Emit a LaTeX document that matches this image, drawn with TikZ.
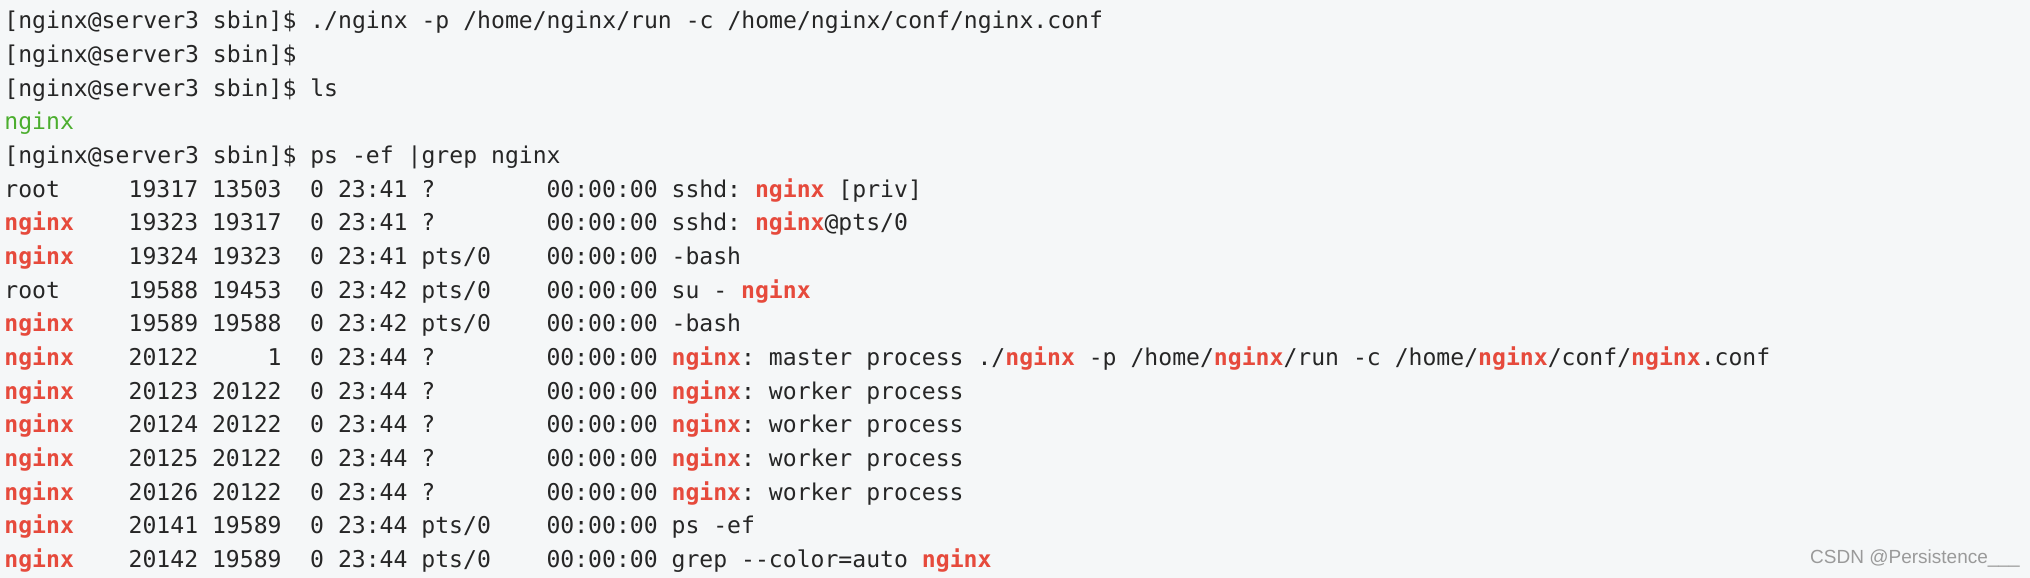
\documentclass[tikz,border=0pt]{standalone}
\usepackage{fontspec}
\setmonofont{DejaVu Sans Mono}
\setmainfont{Liberation Sans}
\definecolor{bgc}{HTML}{F5F7F8}
\definecolor{nred}{HTML}{E64A3C}
\definecolor{ngreen}{HTML}{4BAE2E}
\definecolor{wm}{HTML}{9A9A9A}
\newcommand\R[1]{\textcolor{nred}{\bfseries #1}}
\tikzset{t/.style={inner sep=0pt,font=\ttfamily\fontsize{11.55}{13}\selectfont,text=black!85}}
% #1 idx(line no), #2 uid, #3 pid, #4 ppid, #5 tty, #6 cmd
\newcommand\prow[6]{%
 \node[t,anchor=base west] (u#1) at ({2},{274.5-16.83*(#1-1)}) {#2};
 \node[t,anchor=base east] (p#1) at ({2+14*6.95},{274.5-16.83*(#1-1)}) {#3};
 \node[t,anchor=base east] (pp#1) at ({2+20*6.95},{274.5-16.83*(#1-1)}) {#4};
 \node[t,anchor=base west] (c#1) at ({2+22*6.95},{274.5-16.83*(#1-1)}) {0};
 \node[t,anchor=base west] (s#1) at ({2+24*6.95},{274.5-16.83*(#1-1)}) {23:4\ifnum#1<9 1\else\ifnum#1<11 2\else 4\fi\fi};
 \node[t,anchor=base west] (y#1) at ({2+30*6.95},{274.5-16.83*(#1-1)}) {#5};
 \node[t,anchor=base west] (tm#1) at ({2+39*6.95},{274.5-16.83*(#1-1)}) {00:00:00};
 \node[t,anchor=base west] (cm#1) at ({2+48*6.95},{274.5-16.83*(#1-1)}) {#6};
}
\newcommand\pline[2]{\node[t,anchor=base west] (l#1) at ({2},{274.5-16.83*(#1-1)}) {#2};}
\begin{document}
\begin{tikzpicture}[x=1pt,y=1pt]
\fill[bgc] (0,0) rectangle (1015,289);
\useasboundingbox (0,0) rectangle (1015,289);
\pline{1}{[nginx@server3 sbin]\$ ./nginx -p /home/nginx/run -c /home/nginx/conf/nginx.conf}
\pline{2}{[nginx@server3 sbin]\$}
\pline{3}{[nginx@server3 sbin]\$ ls}
\pline{4}{\textcolor{ngreen}{nginx}}
\pline{5}{[nginx@server3 sbin]\$ ps -ef |grep nginx}
\prow{6}{root}{19317}{13503}{?}{sshd: \R{nginx} [priv]}
\prow{7}{\R{nginx}}{19323}{19317}{?}{sshd: \R{nginx}@pts/0}
\prow{8}{\R{nginx}}{19324}{19323}{pts/0}{-bash}
\prow{9}{root}{19588}{19453}{pts/0}{su - \R{nginx}}
\prow{10}{\R{nginx}}{19589}{19588}{pts/0}{-bash}
\prow{11}{\R{nginx}}{20122}{1}{?}{\R{nginx}: master process ./\R{nginx} -p /home/\R{nginx}/run -c /home/\R{nginx}/conf/\R{nginx}.conf}
\prow{12}{\R{nginx}}{20123}{20122}{?}{\R{nginx}: worker process}
\prow{13}{\R{nginx}}{20124}{20122}{?}{\R{nginx}: worker process}
\prow{14}{\R{nginx}}{20125}{20122}{?}{\R{nginx}: worker process}
\prow{15}{\R{nginx}}{20126}{20122}{?}{\R{nginx}: worker process}
\prow{16}{\R{nginx}}{20141}{19589}{pts/0}{ps -ef}
\prow{17}{\R{nginx}}{20142}{19589}{pts/0}{grep --color=auto \R{nginx}}
\node[inner sep=0pt,anchor=east,font=\fontsize{9.5}{11}\selectfont,text=wm] (wm) at (1010,9.5) {CSDN @Persistence\_\_\_};
\end{tikzpicture}
\end{document}
